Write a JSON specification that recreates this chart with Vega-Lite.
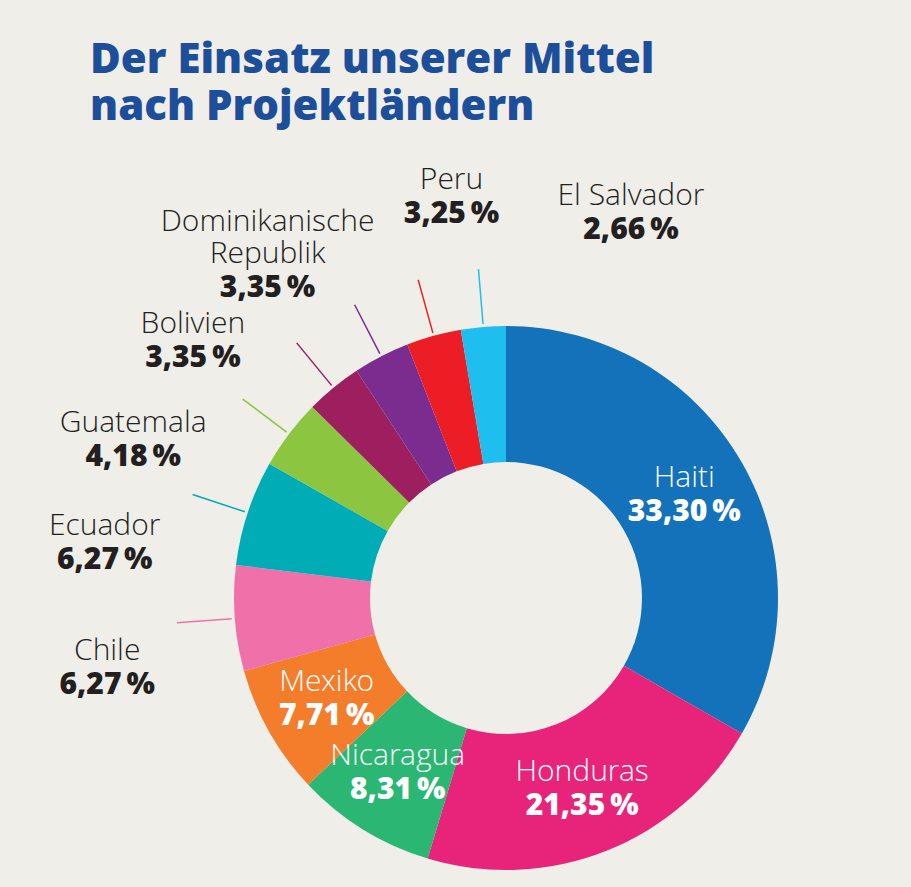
{
  "$schema": "https://vega.github.io/schema/vega-lite/v6.json",
  "autosize": "none",
  "width": 810,
  "height": 578,
  "padding": {"left": 101, "top": 309, "right": 0, "bottom": 0},
  "background": "#efeee9",
  "title": {
    "text": ["Der Einsatz unserer Mittel", "nach Projektländern"],
    "anchor": "start",
    "frame": "group",
    "font": "Open Sans",
    "fontSize": 42,
    "fontWeight": 800,
    "color": "#1d4e9a",
    "lineHeight": 47,
    "offset": 36,
    "dx": -11
  },
  "config": {
    "view": {"stroke": null},
    "locale": {"number": {"decimal": ",", "thousands": ".", "grouping": [3], "currency": ["", " €"], "percent": "\u2009%"}}
  },
  "data": {
    "values": [
      {"country": "Haiti", "value": 0.3330},
      {"country": "Honduras", "value": 0.2135},
      {"country": "Nicaragua", "value": 0.0831},
      {"country": "Mexiko", "value": 0.0771},
      {"country": "Chile", "value": 0.0627},
      {"country": "Ecuador", "value": 0.0627},
      {"country": "Guatemala", "value": 0.0418},
      {"country": "Bolivien", "value": 0.0335},
      {"country": "Dominikanische\nRepublik", "value": 0.0335},
      {"country": "Peru", "value": 0.0325},
      {"country": "El Salvador", "value": 0.0266}
    ]
  },
  "transform": [
    {"window": [{"op": "row_number", "as": "rn"}]},
    {"stack": "value", "groupby": [], "sort": [{"field": "rn", "order": "ascending"}], "as": ["v0", "v1"]},
    {"fold": ["v0", "v1"], "as": ["edgeKind", "edge"]},
    {"aggregate": [{"op": "mean", "field": "edge", "as": "mid"}], "groupby": ["country", "value", "v0", "v1"]}
  ],
  "resolve": {"scale": {"theta": "independent"}},
  "layer": [
    {
      "mark": {"type": "arc", "innerRadius": 136, "outerRadius": 272},
      "encoding": {
        "theta": {"field": "v0", "type": "quantitative", "stack": null, "scale": {"domain": [0, 1]}},
        "theta2": {"field": "v1"},
        "color": {
          "field": "country", "type": "nominal", "legend": null,
          "scale": {
            "domain": ["Haiti", "Honduras", "Nicaragua", "Mexiko", "Chile", "Ecuador", "Guatemala", "Bolivien", "Dominikanische\nRepublik", "Peru", "El Salvador"],
            "range": ["#1372b9", "#e8237a", "#2bb673", "#f47d2b", "#f071aa", "#00acb5", "#8cc540", "#9d1f5f", "#7a2d8f", "#ec1d25", "#1ebfee"]
          }
        }
      }
    },
    {
      "transform": [{"filter": "datum.value < 0.07"}],
      "mark": {"type": "arc", "innerRadius": 275, "outerRadius": 330, "padAngle": 3, "filled": false, "strokeWidth": 1.5},
      "encoding": {
        "theta": {"field": "v0", "type": "quantitative", "stack": null, "scale": {"domain": [0, 1]}},
        "theta2": {"field": "v1"},
        "color": {"field": "country", "type": "nominal", "legend": null}
      }
    },
    {
      "transform": [{"filter": "datum.value > 0.07"}],
      "mark": {"type": "text", "radius": 206, "font": "Open Sans Light, Open Sans", "fontSize": 30, "fontWeight": 300, "baseline": "bottom", "dy": -2, "color": "white"},
      "encoding": {
        "theta": {"field": "mid", "type": "quantitative", "stack": null, "scale": {"domain": [0, 1]}},
        "text": {"field": "country", "type": "nominal"}
      }
    },
    {
      "transform": [{"filter": "datum.value > 0.07"}],
      "mark": {"type": "text", "radius": 206, "font": "Open Sans", "fontSize": 30, "fontWeight": 800, "baseline": "top", "dy": 2, "color": "white"},
      "encoding": {
        "theta": {"field": "mid", "type": "quantitative", "stack": null, "scale": {"domain": [0, 1]}},
        "text": {"field": "value", "type": "quantitative", "format": ".2%"}
      }
    },
    {
      "transform": [{"filter": "datum.value < 0.07 && indexof(datum.country, '\\n') < 0"}],
      "mark": {"type": "text", "radius": 405, "font": "Open Sans Light, Open Sans", "fontSize": 30, "fontWeight": 300, "baseline": "bottom", "dy": -2, "color": "#231f20"},
      "encoding": {
        "theta": {"field": "mid", "type": "quantitative", "stack": null, "scale": {"domain": [0.7, 0.85, 0.925, 1], "range": [4.3494, 5.0911, 5.6601, 6.7989]}},
        "text": {"field": "country", "type": "nominal"}
      }
    },
    {
      "transform": [{"filter": "datum.value < 0.07 && indexof(datum.country, '\\n') >= 0"}],
      "mark": {"type": "text", "radius": 405, "font": "Open Sans Light, Open Sans", "fontSize": 30, "fontWeight": 300, "baseline": "bottom", "dy": -34, "lineHeight": 32, "lineBreak": "\n", "color": "#231f20"},
      "encoding": {
        "theta": {"field": "mid", "type": "quantitative", "stack": null, "scale": {"domain": [0.7, 0.85, 0.925, 1], "range": [4.3494, 5.0911, 5.6601, 6.7989]}},
        "text": {"field": "country", "type": "nominal"}
      }
    },
    {
      "transform": [{"filter": "datum.value < 0.07"}],
      "mark": {"type": "text", "radius": 405, "font": "Open Sans", "fontSize": 30, "fontWeight": 800, "baseline": "top", "dy": 2, "color": "#231f20"},
      "encoding": {
        "theta": {"field": "mid", "type": "quantitative", "stack": null, "scale": {"domain": [0.7, 0.85, 0.925, 1], "range": [4.3494, 5.0911, 5.6601, 6.7989]}},
        "text": {"field": "value", "type": "quantitative", "format": ".2%"}
      }
    }
  ]
}
